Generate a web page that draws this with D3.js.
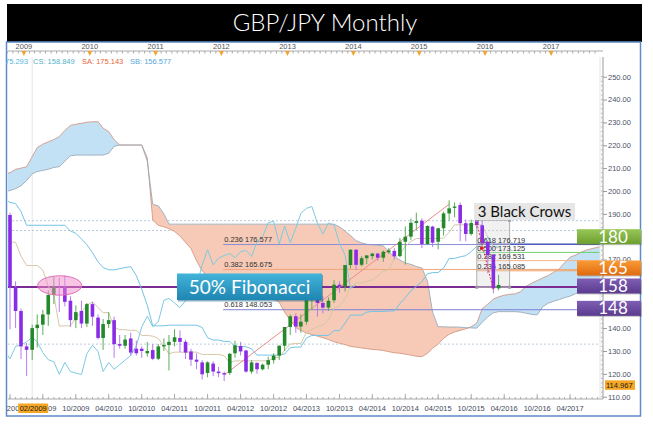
<!DOCTYPE html>
<html lang="en">
<head>
<meta charset="UTF-8">
<title>GBP/JPY Monthly</title>
<script src="https://cdn.jsdelivr.net/npm/d3@7/dist/d3.min.js"></script>
<style>
    body { margin: 0; background: #fff; }
    svg { display: block; }
    text { font-family: "Liberation Sans", Arial, sans-serif; }
</style>
</head>
<body>
<script>
    // GBP/JPY monthly candles, 10/2008 .. 03/2016
    var open = [189.5, 158.0, 147.5, 132.0, 130.5, 140.0, 141.5, 146.0, 154.5, 158.4,
        158.0, 152.0, 143.5, 147.5, 142.0, 150.5, 144.6, 135.7, 141.8, 143.5,
        133.0, 132.3, 135.5, 131.0, 131.0, 129.0, 130.4, 126.6, 132.0, 132.6,
        134.0, 135.7, 134.0, 129.8, 126.2, 125.0, 120.4, 124.5, 121.0, 120.3,
        120.4, 129.0, 132.2, 130.2, 121.0, 124.8, 122.0, 124.0, 126.0, 128.0,
        132.3, 140.5, 145.2, 140.7, 142.8, 152.2, 153.0, 151.0, 149.0, 152.2,
        159.0, 158.2, 167.6, 174.3, 167.7, 170.6, 171.5, 172.6, 170.8, 173.2,
        173.8, 171.5, 177.8, 180.0, 186.0, 187.0, 176.8, 184.4, 177.8, 183.7,
        190.2, 192.6, 193.9, 185.9, 181.2, 187.3, 185.0, 177.8, 172.0, 157.4];
    var high = [190.5, 160.5, 148.5, 133.5, 141.5, 146.0, 148.0, 156.5, 162.5, 162.0,
        163.0, 154.0, 150.0, 152.0, 151.0, 151.5, 146.0, 144.0, 147.0, 145.0,
        137.0, 137.0, 138.0, 134.5, 132.0, 134.0, 133.0, 133.0, 135.5, 137.0,
        139.5, 139.0, 135.0, 131.0, 129.0, 126.0, 125.5, 125.5, 123.0, 121.0,
        129.0, 134.5, 134.0, 130.5, 126.0, 125.0, 124.5, 127.5, 129.0, 132.5,
        140.5, 146.0, 146.5, 146.0, 154.5, 156.7, 155.0, 154.0, 153.5, 161.0,
        160.5, 167.5, 174.5, 174.5, 171.5, 172.0, 173.0, 173.0, 174.0, 175.0,
        175.0, 179.5, 184.5, 188.0, 190.5, 188.0, 185.0, 184.8, 183.8, 191.0,
        195.9, 195.0, 195.0, 187.5, 187.5, 188.0, 187.0, 178.0, 172.5, 163.3];
    var low = [139.5, 140.0, 126.5, 119.0, 126.0, 131.5, 137.0, 141.0, 150.5, 147.0,
        149.5, 140.5, 140.0, 140.0, 140.5, 141.0, 135.0, 130.5, 140.0, 127.0,
        131.0, 131.0, 128.0, 128.0, 127.0, 127.5, 126.0, 126.0, 130.0, 121.5,
        132.0, 129.5, 126.5, 123.5, 122.0, 117.5, 118.5, 119.0, 118.5, 116.8,
        119.5, 127.0, 128.0, 120.5, 120.0, 120.0, 121.5, 122.0, 124.5, 126.0,
        130.0, 137.0, 138.0, 138.0, 141.5, 148.0, 145.0, 146.5, 147.5, 151.0,
        155.5, 156.0, 166.0, 165.5, 167.0, 168.0, 170.0, 169.5, 169.0, 172.5,
        170.0, 171.0, 167.8, 178.5, 183.0, 175.0, 176.5, 175.5, 174.5, 180.5,
        187.0, 188.5, 178.0, 178.0, 180.5, 183.5, 176.5, 164.0, 155.2, 156.5];
    var close = [158.0, 147.5, 132.0, 130.5, 140.0, 141.5, 146.0, 154.5, 158.0, 158.0,
        151.5, 143.5, 147.0, 142.0, 150.5, 145.0, 135.7, 141.8, 143.5, 133.0,
        132.3, 135.0, 129.3, 129.0, 130.0, 130.0, 126.6, 132.0, 132.6, 134.0,
        136.0, 134.0, 129.3, 126.2, 125.3, 119.8, 125.0, 121.0, 120.3, 119.7,
        128.8, 132.5, 129.8, 121.0, 125.0, 122.0, 124.0, 126.0, 128.0, 132.3,
        140.5, 145.2, 140.7, 142.8, 152.2, 153.0, 151.0, 149.0, 152.0, 159.0,
        158.2, 167.6, 174.3, 167.7, 170.6, 171.8, 172.6, 170.8, 173.4, 174.0,
        171.4, 177.8, 180.0, 186.1, 186.8, 176.8, 184.7, 177.4, 183.7, 190.2,
        192.4, 193.2, 185.9, 181.2, 186.0, 185.1, 177.1, 172.0, 157.4, 158.9];

    // ichimoku lines, 09/2008 .. 03/2016
    var tenkan = [178, 177.8, 177.5, 171.5, 167.4, 167.4, 167.4, 165.4, 158.4, 154.4,
        140.9, 141, 141, 144.5, 147, 150, 151.5, 149, 146.8, 146.8,
        140.3, 139.3, 139.3, 139, 139, 136.8, 136.8, 136.5, 135.5, 132,
        128.8, 129.5, 129.5, 129.5, 129.5, 129.5, 128.5, 128.5, 128.5, 128.5,
        127.9, 124.9, 125.7, 125.7, 125.7, 125.7, 125.7, 125.7, 125.7, 127,
        127.3, 130.3, 133, 133.3, 133.3, 138.2, 139.4, 140.6, 141.4, 143.4,
        149, 149.5, 152.8, 158, 159.8, 159.8, 160.5, 161, 162.8, 165,
        165.5, 170.3, 172.5, 175.8, 177.9, 179.2, 179.2, 179.2, 179.2, 179.2,
        179.4, 181.9, 185.2, 185.2, 185.2, 185.2, 185.2, 185.2, 180, 175.6, 175.2];
    var kijun = [196.5, 195, 194.5, 191, 185, 185, 185, 185, 185, 185,
        185, 185, 182.5, 181.5, 179, 176.5, 173, 169, 166.5, 165.5,
        165.5, 166, 166.5, 166.9, 163, 157, 150, 141, 141, 141,
        141.3, 141.3, 141.3, 141.3, 141.3, 141.3, 140.3, 135.8, 134.8, 134.8,
        134.2, 134.2, 131.9, 131.9, 131.9, 130.9, 128.2, 128.2, 128.2, 128.2,
        128.2, 128.7, 131.4, 131.7, 131.7, 135.7, 136.8, 136.8, 136.8, 136.8,
        138.9, 138.9, 142.2, 145.7, 145.7, 145.7, 147, 147.3, 147.3, 147.3,
        147.5, 147.5, 150.7, 153.3, 156.3, 158.3, 160.3, 163.8, 164.3, 164.3,
        166.3, 170.5, 170.5, 171.2, 171.7, 173.5, 175.7, 176, 180, 175.6, 175.6];
    // cloud spans (plotted 26 months ahead), 09/2008 .. 09/2017
    var spanA = [207.5, 208, 209.5, 210, 210.6, 215, 219, 220.5, 221.5, 222.5, 223.8,
        226.5, 228.7, 229.2, 229.6, 230.1, 230.3, 230.3, 227.5, 226, 222.5,
        220.1, 220.1, 220.1, 220.1, 220.1, 214.5, 187.3, 185, 184.3, 183.5,
        182.3, 180.3, 177.5, 174.8, 169.5, 165, 162.8, 161.5, 160.2, 159,
        158, 157.2, 156.5, 156, 155.5, 154.7, 154, 153.5, 152.7, 151.3,
        147, 143.5, 140.3, 139, 137.9, 137.2, 136.5, 135.8, 135, 134,
        133.4, 132.8, 132, 131.7, 131.3, 131, 130.7, 130.5, 130.2, 129.7,
        129.2, 129, 128.6, 128.2, 127.7, 127.5, 129, 131.2, 133, 135.5,
        137.3, 138.3, 139, 139.7, 140.6, 142.2, 148.5, 150.5, 152.7, 153.7,
        154.4, 154.8, 155, 156, 158.3, 159.7, 160.8, 162, 163, 164.5,
        166, 168.6, 171, 172, 173.2, 174.2, 174.8, 175.4, 176];
    var spanB = [199.5, 200.2, 201, 202.3, 204.5, 207.5, 208.5, 209, 209.5, 210.3, 210.6,
        213, 215.4, 215.7, 215.7, 215.7, 215.7, 215.7, 215.7, 216.5, 219.5,
        220.1, 220.1, 220.1, 220.1, 220.1, 213, 194.2, 193.5, 190, 185.5,
        185.5, 185.5, 185.5, 185.5, 185.5, 185.5, 185.5, 185.5, 185.5, 185.5,
        185.5, 185.5, 185.5, 185.5, 185.5, 185.5, 185.5, 185.5, 185.5, 185.5,
        185.5, 185.5, 185.5, 185.5, 185.5, 185.5, 185.5, 185.5, 185.5, 185.5,
        184.3, 182.5, 180.5, 178.3, 177.3, 176.7, 176.4, 176.2, 176, 173.5,
        171.3, 169.8, 168.5, 167.9, 167, 166.3, 160.5, 147, 140.6, 140.6,
        140.5, 140.5, 140.4, 140.2, 140.1, 140, 142.5, 145, 146.7, 147.2,
        147.2, 147.2, 147.2, 147, 146.5, 146, 145.8, 149.4, 150.9, 151.8,
        152.5, 153.3, 154, 155, 155.8, 156.5, 157, 157.2, 157.4];

    var yearLabels = ["2009", "2010", "2011", "2012", "2013", "2014", "2015", "2016", "2017"];
    var monthLabels = ["10/2008", "04/2009", "10/2009", "04/2010", "10/2010", "04/2011", "10/2011",
        "04/2012", "10/2012", "04/2013", "10/2013", "04/2014", "10/2014", "04/2015", "10/2015",
        "04/2016", "10/2016", "04/2017"];
    var priceTicks = [110, 120, 130, 140, 150, 160, 170, 180, 190, 200, 210, 220, 230, 240, 250];
    var dottedLevels = [187, 182.7, 133];

    var fibLevels = [176.577, 165.675, 148.053];
    var fibRatios = ["0.236", "0.382", "0.618"];
    var crowLevels = [176.719, 173.125, 169.531, 165.085, 157.9];
    var crowRatios = ["0.618", "0.500", "0.382", "0.236", ""];
    var markLevels = [180, 165, 158, 148];
    var infoLabels = ["75.293", "CS: 158.849", "SA: 175.143", "SB: 156.577"];

    var width = 653, height = 424;
    var svg = d3.select("body").append("svg")
        .attr("width", width)
        .attr("height", height);

    var firstMonth = new Date(2008, 9, 1);
    var candleMonths = d3.timeMonth.range(firstMonth, new Date(2016, 3, 1));
    function mid(d) { return d3.timeDay.offset(d, 15); }
    function monthAt(i) { return d3.timeMonth.offset(firstMonth, i); }

    var x = d3.scaleTime()
        .domain([mid(candleMonths[0]), mid(candleMonths[89])])
        .range([10, 498.6]);
    var y = d3.scaleLinear().domain([110, 250]).range([396.7, 76.7]);
    var xi = function (i) { return x(mid(monthAt(i))); };

    var defs = svg.append("defs");
    function grad(id, c1, c2) {
        var g = defs.append("linearGradient").attr("id", id)
            .attr("x1", 0).attr("y1", 0).attr("x2", 0).attr("y2", 1);
        g.append("stop").attr("offset", "0%").attr("stop-color", c1);
        g.append("stop").attr("offset", "100%").attr("stop-color", c2);
    }
    grad("gGreen", "#97c657", "#6c9f2f");
    grad("gOrange", "#f99b36", "#e06a10");
    grad("gPurple", "#7f5eb3", "#5a3b8e");
    grad("gTeal", "#42b3d9", "#1e86b2");

    defs.append("clipPath").attr("id", "plotClip")
        .append("rect").attr("x", 8).attr("y", 57).attr("width", 592).attr("height", 342);

    svg.append("rect").attr("width", width).attr("height", height).attr("fill", "#fff");

    // title bar and frame
    svg.append("rect").attr("x", 7).attr("y", 4).attr("width", 635).attr("height", 38).attr("fill", "#000");
    svg.append("text").attr("x", 325).attr("y", 31)
        .attr("text-anchor", "middle")
        .style("font-family", "Lato, 'Open Sans', sans-serif")
        .style("font-size", "24px")
        .style("font-weight", 300)
        .attr("fill", "#fff")
        .text("GBP/JPY Monthly");
    svg.append("rect").attr("x", 6.5).attr("y", 42).attr("width", 634).attr("height", 374)
        .attr("fill", "none").attr("stroke", "#5d8ac8").attr("stroke-width", 1.5);

    var plot = svg.append("g").attr("clip-path", "url(#plotClip)");

    // crosshair and dotted levels
    plot.append("line").attr("x1", xi(4)).attr("x2", xi(4)).attr("y1", 57).attr("y2", 399)
        .attr("stroke", "#e6e6e6");
    plot.selectAll(".dot").data(dottedLevels).enter().append("line")
        .attr("x1", 8).attr("x2", 600)
        .attr("y1", function (d) { return y(d); }).attr("y2", function (d) { return y(d); })
        .attr("stroke", "#b9cadb").attr("stroke-dasharray", "2,2");

    // cloud
    var cloudX = function (d, i) { return xi(i - 1); };
    var band = d3.area().x(cloudX)
        .y0(function (d, i) { return y(spanA[i]); })
        .y1(function (d, i) { return y(spanB[i]); });
    defs.append("clipPath").attr("id", "aboveB").append("path")
        .attr("d", d3.area().x(cloudX).y0(0).y1(function (d) { return y(d); })(spanB));
    defs.append("clipPath").attr("id", "belowB").append("path")
        .attr("d", d3.area().x(cloudX).y0(height).y1(function (d) { return y(d); })(spanB));
    plot.append("path").attr("d", band(spanA)).attr("fill", "#c3e1f4").attr("clip-path", "url(#aboveB)");
    plot.append("path").attr("d", band(spanA)).attr("fill", "#f6cab6").attr("clip-path", "url(#belowB)");
    var lineFrom = function (start) {
        return d3.line().x(function (d, i) { return xi(i + start); }).y(function (d) { return y(d); });
    };
    plot.append("path").attr("d", lineFrom(-1)(spanA)).attr("fill", "none").attr("stroke", "#cf8f78").attr("stroke-width", 0.8);
    plot.append("path").attr("d", lineFrom(-1)(spanB)).attr("fill", "none").attr("stroke", "#8ea3b6").attr("stroke-width", 0.8);

    // fibonacci lines
    var fibColors = ["#8c8fd6", "#f2a676", "#7f80d4"];
    var fibX = xi(39) - 1;
    plot.selectAll(".fib").data(fibLevels).enter().append("line")
        .attr("x1", fibX).attr("x2", 600)
        .attr("y1", function (d) { return y(d); }).attr("y2", function (d) { return y(d); })
        .attr("stroke", function (d, i) { return fibColors[i]; });
    var crowColors = ["#3d4bb2", "#6fcf6f", "#f4b386", "#f2a066", "#6fcf6f"];
    var crowX = xi(85);
    plot.selectAll(".crow").data(crowLevels).enter().append("line")
        .attr("x1", crowX).attr("x2", 600)
        .attr("y1", function (d) { return y(d); }).attr("y2", function (d) { return y(d); })
        .attr("stroke", function (d, i) { return crowColors[i]; })
        .attr("stroke-width", function (d, i) { return i === 0 ? 1.3 : 1; });
    plot.append("line").attr("x1", 8).attr("x2", 600).attr("y1", y(158)).attr("y2", y(158))
        .attr("stroke", "#7c2b92").attr("stroke-width", 2);

    // ichimoku lines
    plot.append("path").attr("d", lineFrom(-1)(tenkan)).attr("fill", "none").attr("stroke", "#d6c7a8");
    plot.append("path").attr("d", lineFrom(-1)(kijun)).attr("fill", "none").attr("stroke", "#72c4e6");
    plot.append("path").attr("d", lineFrom(-26)(close)).attr("fill", "none").attr("stroke", "#7ccbe0");

    // fib labels
    plot.selectAll(".fibt").data(fibLevels).enter().append("text")
        .attr("x", fibX + 1).attr("y", function (d) { return y(d) - 2.5; })
        .style("font-size", "7.5px").attr("fill", "#333")
        .text(function (d, i) { return fibRatios[i] + " " + d3.format(".3f")(d); });
    plot.append("line")
        .attr("x1", xi(39)).attr("y1", y(119.53))
        .attr("x2", xi(80)).attr("y2", y(194.2))
        .attr("stroke", "#e88e88");

    plot.append("rect").attr("x", crowX).attr("y", y(187.2))
        .attr("width", xi(91) - crowX).attr("height", y(157.9) - y(187.2))
        .attr("fill", "#d6d6d6").attr("fill-opacity", 0.35).attr("stroke", "#b0b0b0");
    plot.selectAll(".crowt").data(crowLevels.slice(0, 4)).enter().append("text")
        .attr("x", crowX + 0.5).attr("y", function (d) { return y(d) - 1.5; })
        .style("font-size", "7.5px").attr("fill", "#333")
        .text(function (d, i) { return crowRatios[i] + " " + d3.format(".3f")(d); });

    // candles
    var candles = candleMonths.map(function (m, i) {
        return { date: mid(m), o: open[i], h: high[i], l: low[i], c: close[i] };
    });
    var bodyW = 3.6;
    var cg = plot.selectAll(".candle").data(candles).enter().append("g");
    cg.append("line")
        .attr("x1", function (d) { return x(d.date); }).attr("x2", function (d) { return x(d.date); })
        .attr("y1", function (d) { return y(d.h); }).attr("y2", function (d) { return y(d.l); })
        .attr("stroke", function (d) { return d.c >= d.o ? "#5aae5a" : "#b67cf0"; });
    cg.append("rect")
        .attr("x", function (d) { return x(d.date) - bodyW / 2; })
        .attr("width", bodyW)
        .attr("y", function (d) { return y(Math.max(d.o, d.c)); })
        .attr("height", function (d) { return Math.max(1, Math.abs(y(d.o) - y(d.c))); })
        .attr("fill", function (d) { return d.c >= d.o ? "#23892a" : "#8a2be6"; });

    // fib handles, trend marker
    [[crowX, y(187.2)], [xi(91), y(187.2)], [crowX, y(157.9)], [xi(91), y(157.9)]].forEach(function (p) {
        plot.append("rect").attr("x", p[0] - 1.5).attr("y", p[1] - 1.5).attr("width", 3).attr("height", 3)
            .attr("fill", "#999");
    });
    plot.append("line").attr("x1", xi(85)).attr("y1", y(186)).attr("x2", xi(88)).attr("y2", y(156.7))
        .attr("stroke", "#e03a3a").attr("stroke-dasharray", "2,1.5");
    plot.append("circle").attr("cx", xi(85) + 5).attr("cy", y(175)).attr("r", 1.8).attr("fill", "#e02020");

    svg.append("ellipse").attr("cx", 59.7).attr("cy", 285.5).attr("rx", 22).attr("ry", 9.7)
        .attr("fill", "#f28ccc").attr("fill-opacity", 0.5).attr("stroke", "#e070b8");

    // top axis
    var topAxis = svg.append("g");
    topAxis.append("line").attr("x1", 8).attr("x2", 603).attr("y1", 51).attr("y2", 51).attr("stroke", "#aaa");
    topAxis.selectAll(".mt").data(d3.timeMonth.range(firstMonth, new Date(2017, 9, 1))).enter().append("line")
        .attr("x1", function (d) { return x(d); }).attr("x2", function (d) { return x(d); })
        .attr("y1", 51).attr("y2", 53.5).attr("stroke", "#aaa");
    var parseYear = d3.timeParse("%Y");
    topAxis.selectAll(".yt").data(yearLabels).enter().append("text")
        .attr("x", function (d) { return x(parseYear(d)); }).attr("y", 48.5)
        .attr("text-anchor", "middle").style("font-size", "7.5px").attr("fill", "#555")
        .text(function (d) { return d; });
    topAxis.selectAll(".tri").data(yearLabels).enter().append("path")
        .attr("transform", function (d) { return "translate(" + x(parseYear(d)) + ",51)"; })
        .attr("d", "M-2.5,0L2.5,0L0,5Z").attr("fill", "#f2a431");

    var infoX = [5, 33, 82, 130];
    var infoColors = ["#56b6de", "#52b2c6", "#e8653c", "#58a7d8"];
    svg.selectAll(".info").data(infoLabels).enter().append("text")
        .attr("x", function (d, i) { return infoX[i]; }).attr("y", 64)
        .style("font-size", "7.5px")
        .attr("fill", function (d, i) { return infoColors[i]; })
        .text(function (d) { return d; });

    // level marks on the right (their centres, nudged as in the picture)
    var markNudge = [0, -3, -1, -1.5];
    var markCentre = function (d, i) { return y(d) + markNudge[i]; };
    var markBoxes = markLevels.map(function (d, i) { return [markCentre(d, i) - 7.5, markCentre(d, i) + 7.5]; });
    var covered = function (v) {
        return markBoxes.some(function (b) { return y(v) >= b[0] && y(v) <= b[1]; });
    };

    // right price axis
    var yAxis = d3.axisRight(y).tickValues(priceTicks)
        .tickFormat(function (v) { return covered(v) ? "" : d3.format(".2f")(v); })
        .tickSize(4).tickPadding(1);
    var ya = svg.append("g").attr("transform", "translate(603,0)").call(yAxis);
    ya.select(".domain").attr("stroke", "#999").attr("d", "M0,57V399");
    ya.selectAll(".tick line").attr("stroke", "#999");
    ya.selectAll("text").style("font-size", "7.5px").attr("fill", "#4a5066");
    ya.selectAll(".minor").data(d3.range(110, 251, 2)).enter().append("line")
        .attr("x1", -2).attr("x2", 0)
        .attr("y1", function (d) { return y(d); }).attr("y2", function (d) { return y(d); })
        .attr("stroke", "#bbb");
    svg.append("line").attr("x1", 600).attr("x2", 600).attr("y1", 57).attr("y2", 399).attr("stroke", "#e4e4e4");

    // bottom time axis
    var parseMonth = d3.timeParse("%m/%Y");
    var bottomAxis = svg.append("g");
    bottomAxis.append("line").attr("x1", 8).attr("x2", 603).attr("y1", 399).attr("y2", 399).attr("stroke", "#aaa");
    bottomAxis.selectAll(".bm").data(d3.timeMonth.range(firstMonth, new Date(2017, 9, 1))).enter().append("line")
        .attr("x1", function (d) { return x(mid(d)); }).attr("x2", function (d) { return x(mid(d)); })
        .attr("y1", 399).attr("y2", 397).attr("stroke", "#aaa");
    bottomAxis.selectAll(".bl").data(monthLabels).enter().append("line")
        .attr("x1", function (d) { return x(mid(parseMonth(d))); }).attr("x2", function (d) { return x(mid(parseMonth(d))); })
        .attr("y1", 399).attr("y2", 394).attr("stroke", "#aaa");
    defs.append("clipPath").attr("id", "bottomClip")
        .append("rect").attr("x", 7).attr("y", 400).attr("width", 600).attr("height", 15);
    var bottomText = bottomAxis.append("g").attr("clip-path", "url(#bottomClip)");
    bottomText.selectAll("text").data(monthLabels).enter().append("text")
        .attr("x", function (d) { return x(mid(parseMonth(d))); }).attr("y", 411)
        .attr("text-anchor", "middle").style("font-size", "7.5px").attr("fill", "#444a5a")
        .text(function (d) { return d; });

    // cursor labels
    svg.append("rect").attr("x", xi(4) - 14).attr("y", 403.5).attr("width", 30).attr("height", 9.5).attr("fill", "#f5a623");
    svg.append("text").attr("x", xi(4) + 1).attr("y", 411).attr("text-anchor", "middle")
        .style("font-size", "7.5px").attr("fill", "#222").text("02/2009");
    svg.append("rect").attr("x", 605).attr("y", y(114.967) - 5).attr("width", 30).attr("height", 9.5).attr("fill", "#f5a623");
    svg.append("text").attr("x", 606).attr("y", y(114.967) + 2.5)
        .style("font-size", "7.5px").attr("fill", "#222").text("114.967");

    // annotation boxes
    svg.append("rect").attr("x", 178).attr("y", 275).attr("width", 145).attr("height", 26.5)
        .attr("fill", "#17627f").attr("opacity", 0.5);
    svg.append("rect").attr("x", 177).attr("y", 273.5).attr("width", 145).attr("height", 26.5)
        .attr("fill", "url(#gTeal)");
    svg.append("text").attr("x", 249.5).attr("y", 293.5).attr("text-anchor", "middle")
        .style("font-family", "Lato, 'Open Sans', sans-serif").style("font-size", "19px")
        .attr("fill", "#fff").text("50% Fibonacci");

    svg.append("rect").attr("x", 474).attr("y", 203).attr("width", 101).attr("height", 17)
        .attr("fill", "#e6e6e6");
    svg.append("text").attr("x", 524.5).attr("y", 217).attr("text-anchor", "middle")
        .style("font-family", "Lato, 'Open Sans', sans-serif").style("font-size", "15px")
        .attr("fill", "#111").text("3 Black Crows");

    var markFill = ["url(#gGreen)", "url(#gOrange)", "url(#gPurple)", "url(#gPurple)"];
    var mk = svg.selectAll(".mark").data(markLevels).enter().append("g")
        .attr("transform", function (d, i) { return "translate(577," + markCentre(d, i) + ")"; });
    mk.append("rect").attr("x", 1).attr("y", -6.5).attr("width", 64).attr("height", 15)
        .attr("fill", "#555").attr("opacity", 0.35);
    mk.append("rect").attr("x", 0).attr("y", -7.5).attr("width", 64).attr("height", 15)
        .attr("fill", function (d, i) { return markFill[i]; });
    mk.append("text").attr("x", 36).attr("y", 6).attr("text-anchor", "middle")
        .style("font-family", "Lato, 'Open Sans', sans-serif").style("font-size", "17px")
        .attr("fill", "#fff").text(function (d) { return d; });
</script>
</body>
</html>
